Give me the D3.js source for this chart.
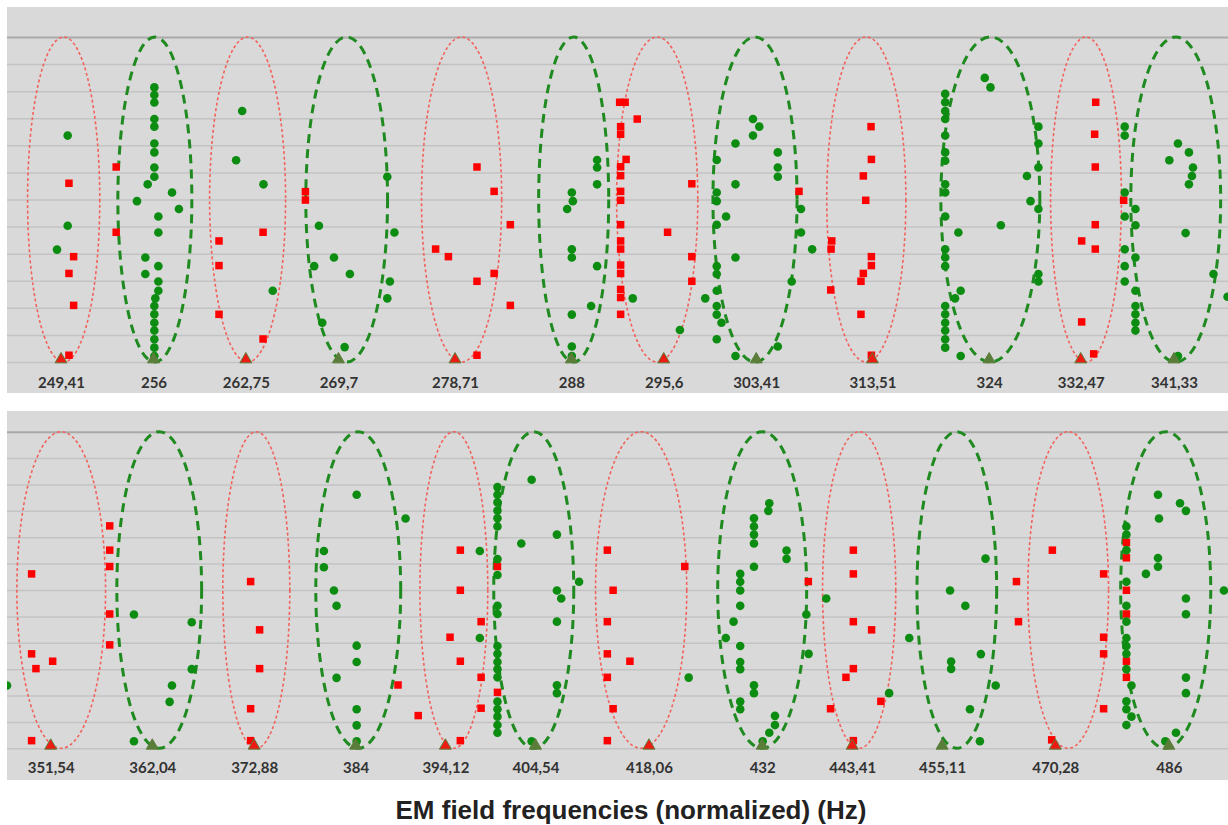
<!DOCTYPE html>
<html>
<head>
<meta charset="utf-8">
<script src="https://cdn.jsdelivr.net/npm/d3@7"></script>
<style>
  html, body { margin: 0; padding: 0; background: #fff; }
  svg { display: block; }
</style>
</head>
<body>
<div id="chart"></div>
<script>
// frequencies marked under each strip (Hz)
const ticksTop = [249.41, 256, 262.75, 269.7, 278.71, 288, 295.6, 303.41, 313.51, 324, 332.47, 341.33];
const ticksBottom = [351.54, 362.04, 372.88, 384, 394.12, 404.54, 418.06, 432, 443.41, 455.11, 470.28, 486];

// "r" = red dotted ellipse, "g" = green dashed ellipse
const kindsTop = ["r", "g", "r", "g", "r", "g", "r", "g", "r", "g", "r", "g"];
const kindsBottom = ["r", "g", "r", "g", "r", "g", "r", "g", "r", "g", "r", "g"];

// frequency band enclosed by each ellipse [low Hz, high Hz]
const bandsTop = [
  [247.07, 252.15], [253.44, 258.78], [260.08, 265.71], [267.23, 273.46],
  [276.09, 282.40], [285.36, 291.05], [291.70, 298.45], [299.73, 306.92],
  [309.50, 316.48], [319.62, 328.66], [329.66, 336.31], [337.20, 345.85]
];
const bandsBottom = [
  [348.11, 357.17], [358.34, 367.25], [369.51, 376.75], [379.60, 389.05],
  [391.22, 398.99], [399.68, 409.05], [411.64, 422.66], [426.47, 437.60],
  [439.62, 449.04], [451.81, 462.36], [466.56, 477.59], [479.27, 491.94]
];

// [frequency Hz, level]
const greenTop = [
  [249.88, 8.36], [249.88, 5.03], [249.13, 4.15],
  [256.06, 10.14], [256.06, 9.86], [256.06, 9.58], [256.06, 8.97], [256.06, 8.69], [256.06, 8.07],
  [256.06, 7.74], [256.06, 7.18], [256.06, 6.84], [256.06, 2.07], [256.06, 1.76], [256.06, 1.45],
  [256.06, 1.16], [256.06, 0.84], [256.06, 0.53], [256.06, 0.22],
  [255.58, 6.56], [257.34, 6.26], [254.81, 5.94], [257.84, 5.65], [256.35, 5.37], [256.35, 4.78],
  [255.41, 3.86], [256.35, 3.54], [255.41, 3.25], [256.35, 2.97], [256.35, 2.63], [256.13, 2.35],
  [262.48, 9.27], [262.03, 7.45], [264.06, 6.56], [264.75, 2.63],
  [273.44, 6.84], [268.22, 5.03], [273.99, 4.78], [269.36, 3.86], [267.86, 3.54], [270.57, 3.25],
  [273.64, 2.97], [273.44, 2.35], [268.47, 1.45], [270.17, 0.55],
  [290.10, 7.46], [290.10, 7.18], [290.10, 6.56], [288.04, 6.26], [288.12, 5.94], [287.66, 5.65],
  [288.04, 4.16], [288.04, 3.86], [290.10, 3.54], [289.61, 2.07], [288.04, 1.75], [288.04, 0.57],
  [288.04, 0.22],
  [293.03, 2.35], [296.95, 1.18],
  [300.05, 7.46], [300.05, 6.26], [300.05, 5.94], [300.05, 5.07], [300.05, 3.54], [300.05, 3.25],
  [300.05, 2.63], [300.05, 2.07], [300.05, 1.75], [300.05, 0.84],
  [300.84, 5.37], [299.08, 2.35], [300.45, 1.45], [301.64, 0.22], [301.64, 8.07], [303.13, 8.97],
  [303.67, 8.69], [303.13, 8.36], [305.26, 7.74], [305.26, 7.18], [305.26, 6.84], [301.64, 6.56],
  [301.64, 3.86], [306.46, 2.97], [305.26, 0.57], [307.26, 5.65], [307.26, 4.78], [308.23, 4.16],
  [320.01, 9.90], [320.01, 9.59], [320.01, 9.27], [320.01, 8.97], [320.01, 8.36], [320.01, 7.74],
  [320.01, 7.43], [320.01, 6.56], [320.01, 6.26], [320.01, 5.37], [320.01, 4.16], [320.01, 3.86],
  [320.01, 3.54], [320.01, 2.07], [320.01, 1.76], [320.01, 1.45], [320.01, 1.16], [320.01, 0.84],
  [320.01, 0.53],
  [321.20, 4.78], [320.90, 2.35], [321.41, 2.63], [321.41, 0.22], [323.60, 10.49], [324.12, 10.14],
  [325.07, 5.05], [328.53, 8.69], [328.53, 8.07], [328.53, 7.18], [327.47, 6.87], [327.80, 5.94],
  [328.53, 5.65], [328.53, 3.25], [328.53, 2.97],
  [336.62, 8.69], [336.62, 8.36], [336.62, 6.26], [336.62, 5.37], [336.62, 4.16], [336.62, 3.54],
  [336.62, 2.97],
  [337.64, 5.65], [337.64, 5.05], [337.64, 3.86], [337.64, 2.63], [337.64, 2.07], [337.64, 1.76],
  [337.64, 1.45], [337.64, 1.16],
  [341.71, 8.07], [340.88, 7.45], [342.77, 7.74], [343.16, 7.18], [343.06, 6.87], [342.77, 6.56],
  [342.45, 4.76], [345.15, 3.25], [341.71, 0.22], [346.52, 2.41]
];

const redTop = [
  [249.97, 6.60], [250.30, 3.89], [249.97, 3.27], [250.30, 2.09], [249.97, 0.25],
  [253.32, 7.20], [253.32, 4.79],
  [264.03, 4.79], [260.77, 4.47], [260.77, 3.56], [260.77, 1.76], [264.03, 0.85],
  [267.20, 6.29], [267.20, 5.98],
  [280.44, 7.20], [281.80, 6.30], [283.09, 5.07], [277.19, 4.17], [278.19, 3.89], [281.80, 3.27],
  [280.44, 2.98], [283.09, 2.09], [280.44, 0.25],
  [291.95, 9.59], [292.40, 9.59], [293.40, 8.97],
  [292.03, 8.69], [292.03, 8.41], [292.03, 7.21], [292.03, 6.88], [292.03, 6.30], [292.03, 5.97],
  [292.03, 5.07], [292.03, 4.47], [292.03, 4.17], [292.03, 3.58], [292.03, 3.27], [292.03, 2.68],
  [292.03, 2.38], [292.03, 1.76],
  [292.48, 7.48], [297.95, 6.58], [295.92, 4.79], [297.95, 3.89], [297.95, 2.98],
  [307.09, 6.30],
  [313.39, 8.69], [313.42, 7.48], [312.71, 6.87], [312.92, 5.97], [309.94, 4.47], [309.88, 4.17],
  [313.42, 3.89], [313.42, 3.56], [312.71, 3.27], [312.50, 2.98], [309.85, 2.66], [312.50, 1.76],
  [313.42, 0.25],
  [333.88, 9.59], [333.78, 8.41], [333.84, 7.20], [333.84, 5.07], [332.56, 4.47], [333.84, 4.17],
  [332.56, 1.48], [333.69, 0.30],
  [336.52, 5.97]
];

const greenBottom = [
  [347.12, 2.38],
  [360.12, 5.07], [366.20, 4.78], [366.20, 3.00], [364.11, 2.38], [363.86, 1.76], [360.12, 0.27],
  [384.12, 9.61], [389.60, 8.71], [380.49, 7.48], [380.49, 6.86], [381.60, 5.98], [381.89, 5.40],
  [384.12, 3.89], [384.12, 3.27], [381.89, 2.67], [384.12, 1.48], [384.12, 0.87], [384.12, 0.27],
  [398.07, 7.48], [398.07, 4.18],
  [400.11, 9.90], [400.11, 9.61], [400.11, 9.32], [400.11, 9.01], [400.11, 8.72], [400.11, 8.41],
  [400.11, 7.17], [400.11, 6.57], [400.11, 5.40], [400.11, 5.09], [400.11, 3.88], [400.11, 3.58],
  [400.11, 3.27], [400.11, 3.00], [400.11, 2.69], [400.11, 1.77], [400.11, 1.48], [400.11, 1.20],
  [400.11, 0.88], [400.11, 0.59],
  [404.09, 10.18], [402.88, 7.76], [407.06, 8.10], [409.68, 6.31], [407.06, 5.98], [407.57, 5.68],
  [407.06, 4.80], [407.06, 2.39], [407.06, 2.09], [404.09, 0.27],
  [422.90, 2.68],
  [430.97, 8.72], [430.97, 8.41], [430.97, 8.10], [430.97, 7.76], [430.97, 6.88], [430.97, 2.39],
  [430.97, 2.09],
  [432.89, 9.29], [432.77, 9.00], [435.06, 7.50], [435.06, 7.18],
  [429.26, 6.61], [429.26, 6.31], [429.26, 5.98], [429.26, 5.40], [429.26, 3.88], [429.26, 3.27],
  [429.26, 3.00], [429.26, 1.77], [429.26, 1.48],
  [428.43, 4.80], [427.47, 4.18], [433.60, 1.23], [433.60, 0.88], [432.89, 0.59], [432.06, 0.27],
  [437.56, 5.07], [437.85, 3.58],
  [440.09, 5.68], [450.80, 4.18], [448.18, 2.09],
  [460.87, 7.19], [456.16, 5.98], [458.18, 5.40], [460.25, 3.57], [456.30, 3.29], [456.30, 3.01],
  [462.23, 2.38], [458.80, 1.48], [460.12, 0.27],
  [480.07, 8.41], [480.07, 8.10], [480.07, 7.51], [480.07, 6.31], [480.07, 5.40], [480.07, 4.80],
  [480.07, 4.18], [480.07, 3.88], [480.07, 3.58], [480.07, 3.00], [480.07, 1.78], [480.07, 1.48],
  [480.07, 0.88],
  [480.77, 2.38], [480.77, 1.20],
  [484.48, 9.61], [484.62, 8.71], [487.58, 9.29], [488.42, 9.00], [484.48, 7.21], [484.48, 6.88],
  [482.79, 6.61], [488.42, 5.68], [488.42, 5.08], [488.42, 2.68], [488.42, 2.09], [487.01, 0.59],
  [485.51, 0.27], [493.82, 5.98]
];

const redBottom = [
  [349.60, 6.61], [349.60, 3.58], [350.04, 3.02], [351.74, 3.30], [349.60, 0.29],
  [357.60, 8.43], [357.60, 7.51], [357.60, 6.89], [357.60, 5.09], [357.60, 3.92],
  [372.50, 6.32], [373.47, 4.49], [373.47, 3.02], [372.50, 1.50], [372.50, 0.29],
  [388.75, 2.40], [391.03, 1.24],
  [395.83, 7.51], [395.83, 5.99], [398.22, 4.80], [394.65, 4.21], [395.83, 3.30], [398.22, 2.69],
  [398.22, 1.52], [395.83, 0.29],
  [400.11, 6.89], [400.11, 2.12],
  [413.05, 7.51], [422.42, 6.89], [413.74, 5.99], [413.05, 4.80], [413.05, 3.58], [415.76, 3.30],
  [413.05, 2.69], [413.74, 1.50], [413.05, 0.29],
  [437.81, 6.32],
  [443.56, 7.51], [443.56, 6.61], [443.56, 4.80], [445.91, 4.49], [443.56, 3.02], [442.61, 2.69],
  [447.11, 1.78], [440.64, 1.50], [443.56, 0.29],
  [469.88, 7.51], [465.02, 6.32], [465.29, 4.80], [476.91, 6.61], [476.91, 4.21], [476.91, 3.58],
  [476.91, 1.50], [469.79, 0.32],
  [480.07, 7.80], [480.07, 7.22], [480.07, 5.99], [480.07, 5.09], [480.07, 3.30], [480.07, 2.69]
];

const levels = d3.range(0, 13);
const title = "EM field frequencies (normalized) (Hz)";

const W = 1228, H = 825;
const svg = d3.select("#chart").append("svg")
  .attr("width", W).attr("height", H);

// layout of the two strips
const panels = [
  { top: 7, bottom: 393, yZero: 362, yTop: 37, xRange: [61, 1174], labelY: 388,
    ticks: ticksTop, kinds: kindsTop, bands: bandsTop, green: greenTop, red: redTop },
  { top: 411, bottom: 780, yZero: 748.3, yTop: 431.7, xRange: [50.7, 1168.8], labelY: 773,
    ticks: ticksBottom, kinds: kindsBottom, bands: bandsBottom, green: greenBottom, red: redBottom }
];

const left = 7, right = W;

panels.forEach((p, i) => {
  const x = d3.scaleLog()
    .domain([p.ticks[0], p.ticks[p.ticks.length - 1]])
    .range(p.xRange);
  const y = d3.scaleLinear().domain([0, 12]).range([p.yZero, p.yTop]);

  const g = svg.append("g");

  g.append("clipPath").attr("id", "clip" + i)
    .append("rect")
    .attr("x", left).attr("y", p.top)
    .attr("width", right - left).attr("height", p.bottom - p.top);

  g.append("rect")
    .attr("x", left).attr("y", p.top)
    .attr("width", right - left).attr("height", p.bottom - p.top)
    .attr("fill", "#d9d9d9");

  // horizontal grid
  const grid = g.append("g")
    .attr("transform", `translate(${left},0)`)
    .call(d3.axisLeft(y).tickValues(levels).tickSize(-(right - left)).tickFormat(""));
  grid.select(".domain").remove();
  grid.selectAll(".tick line")
    .attr("stroke", d => d === 12 ? "#a9a9a9" : "#c3c3c3")
    .attr("stroke-width", d => d === 12 ? 2 : 1.5);

  const plot = g.append("g").attr("clip-path", `url(#clip${i})`);

  // ellipses around each marked frequency
  const ry = (y(0) - y(12)) / 2;
  plot.selectAll("ellipse")
    .data(p.bands)
    .join("ellipse")
    .attr("cx", d => (x(d[0]) + x(d[1])) / 2)
    .attr("cy", y(6))
    .attr("rx", d => (x(d[1]) - x(d[0])) / 2)
    .attr("ry", ry)
    .attr("fill", "none")
    .attr("stroke", (d, j) => p.kinds[j] === "r" ? "#f2625c" : "#1f8a1f")
    .attr("stroke-width", (d, j) => p.kinds[j] === "r" ? 1.6 : 3)
    .attr("stroke-dasharray", (d, j) => p.kinds[j] === "r" ? "3,2.5" : "9,6");

  // red squares
  const s = 7.5;
  plot.selectAll("rect.red")
    .data(p.red)
    .join("rect")
    .attr("class", "red")
    .attr("x", d => x(d[0]) - s / 2)
    .attr("y", d => y(d[1]) - s / 2)
    .attr("width", s).attr("height", s)
    .attr("fill", "#ff0000");

  // green circles
  plot.selectAll("circle.green")
    .data(p.green)
    .join("circle")
    .attr("class", "green")
    .attr("cx", d => x(d[0]))
    .attr("cy", d => y(d[1]))
    .attr("r", 4.3)
    .attr("fill", "#0c8c10");

  // triangles on the baseline
  const tri = d3.symbol(d3.symbolTriangle, 62);
  plot.selectAll("path.tri")
    .data(p.ticks)
    .join("path")
    .attr("class", "tri")
    .attr("d", tri)
    .attr("transform", d => `translate(${x(d)},${y(0) - 2.6})`)
    .attr("fill", (d, j) => p.kinds[j] === "r" ? "#ee1b14" : "#5b7d3a")
    .attr("stroke", "#5b7d3a")
    .attr("stroke-width", 1);

  // frequency labels
  const ax = g.append("g")
    .attr("transform", `translate(0,${p.yZero})`)
    .call(d3.axisBottom(x).tickValues(p.ticks).tickSize(0)
      .tickFormat(d => String(d).replace(".", ",")));
  ax.select(".domain").remove();
  ax.selectAll("text")
    .attr("y", p.labelY - p.yZero)
    .attr("dy", 0)
    .attr("fill", "#333")
    .attr("font-family", "Lato, 'Open Sans', sans-serif")
    .attr("font-weight", "bold")
    .attr("font-size", 15);
});

svg.append("text")
  .attr("x", 631).attr("y", 819)
  .attr("text-anchor", "middle")
  .attr("font-family", "'Liberation Sans', Arial, sans-serif")
  .attr("font-weight", "bold")
  .attr("font-size", 26)
  .attr("fill", "#222")
  .text(title);
</script>
</body>
</html>
